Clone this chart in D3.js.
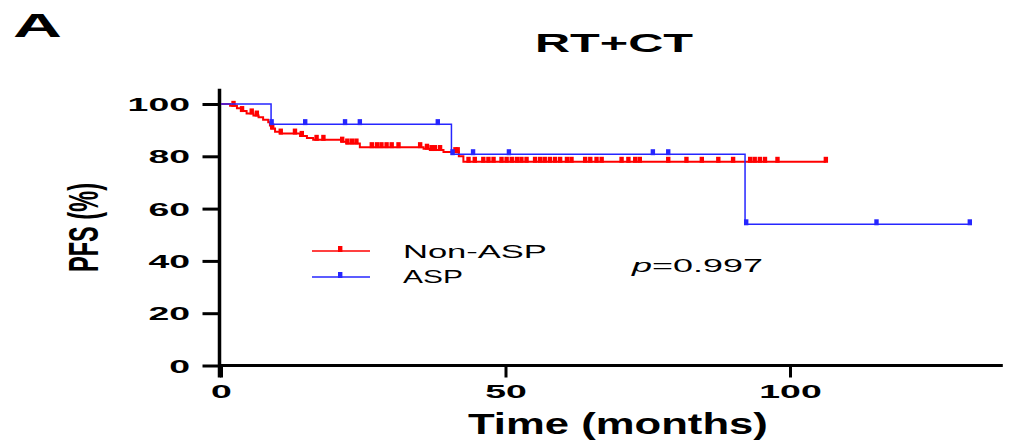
<!DOCTYPE html>
<html>
<head>
<meta charset="utf-8">
<script src="https://cdn.jsdelivr.net/npm/d3@7"></script>
<style>
  body { margin: 0; background: #fff; }
  svg { display: block; }
  text { font-family: "Liberation Sans", Arial, Helvetica, sans-serif; fill: #000; }
</style>
</head>
<body>
<script>
// Kaplan–Meier progression-free survival, RT+CT cohort, Non-ASP vs ASP

const yTickValues = [0, 20, 40, 60, 80, 100];
const xTickValues = [0, 50, 100];

// Non-ASP: time of each step (months) and PFS (%) from that time on
const nonAspTimes = [0, 1.6, 2.8, 3.6, 4.5, 5.7, 6.6, 7.4, 8.3, 8.6, 8.9, 9.5, 10.4,
  13.9, 15.1, 16.2, 21.2, 22.1, 24.4, 35.6, 36.7, 39.1, 41.8, 42.6];
const nonAspPfs = [100, 99.3, 98.4, 97.3, 96.4, 95.6, 94.9, 94.0, 93.0, 91.8, 90.6, 89.4, 88.7,
  87.8, 87.0, 86.3, 85.6, 84.9, 83.5, 82.9, 82.4, 81.6, 80.0, 77.9];
const nonAspEnd = 106.3;
const nonAspCensored = [2.2, 3.7, 5.4, 6.3, 9.0, 10.5, 13.0, 14.2, 16.8, 18.0, 21.3, 22.2, 23.0, 23.8,
  26.5, 27.4, 28.2, 29.1, 30.0, 31.2, 35.0, 36.2, 37.0, 37.6, 38.5, 41.2, 41.6,
  43.5, 44.6, 46.1, 47.0, 47.9, 49.3, 50.2, 51.1, 52.0, 52.8, 53.7, 55.2, 56.1, 56.9,
  57.8, 58.7, 59.6, 60.8, 61.6, 64.0, 64.9, 66.0, 66.9, 70.4, 71.6, 72.8, 73.6,
  78.6, 81.8, 84.5, 87.4, 90.0, 93.0, 93.8, 94.7, 95.6, 97.8, 106.3];

// ASP
const aspTimes = [0, 8.8, 40.5, 92.1];
const aspPfs = [100, 92.3, 80.8, 54.0];
const aspEnd = 131.6;
const aspCensored = [8.9, 14.8, 21.8, 24.4, 38.1, 40.7, 44.3, 50.6, 75.9, 78.6, 92.3, 115.2, 131.6];

const groups = [
  { name: "Non-ASP", color: "#ff0000", width: 2, times: nonAspTimes, pfs: nonAspPfs, end: nonAspEnd, censored: nonAspCensored },
  { name: "ASP", color: "#2626ff", width: 1.5, times: aspTimes, pfs: aspPfs, end: aspEnd, censored: aspCensored }
];

const W = 1015, H = 440;
const svg = d3.select("body").append("svg").attr("width", W).attr("height", H);

const x = d3.scaleLinear().domain([0, 100]).range([221, 790]);
const y = d3.scaleLinear().domain([0, 100]).range([365.5, 104]);

// stretch a text element horizontally so it spans the given width
function stretch(sel, left, baseline, width) {
  sel.attr("x", 0).attr("y", 0).attr("text-anchor", "start");
  const w = sel.node().getComputedTextLength();
  sel.attr("transform", `translate(${left},${baseline}) scale(${width / w},1)`);
  return sel;
}

// panel letter and title
stretch(svg.append("text").attr("font-size", 33.5).attr("font-weight", 700).text("A"), 13, 37, 49);
stretch(svg.append("text").attr("font-size", 25).attr("font-weight", 700).text("RT+CT"), 535, 52, 158);

// axes
const axisX0 = x(0) - 1.5;
const gy = svg.append("g").attr("transform", `translate(${axisX0},0)`)
  .call(d3.axisLeft(y).tickValues(yTickValues).tickSize(17).tickSizeOuter(0).tickFormat(d3.format("d")));
gy.select(".domain").remove();
gy.selectAll(".tick line").attr("stroke", "#000").attr("stroke-width", 3);
gy.selectAll(".tick text")
  .attr("x", -29.5).attr("dy", "0.36em")
  .attr("font-size", 18.5).attr("font-weight", 700).attr("font-family", null)
  .attr("textLength", d => String(d).length * 20.8).attr("lengthAdjust", "spacingAndGlyphs");

const gx = svg.append("g").attr("transform", `translate(0,${y(0)})`)
  .call(d3.axisBottom(x).tickValues(xTickValues).tickSize(12).tickSizeOuter(0).tickFormat(d3.format("d")));
gx.select(".domain").remove();
gx.selectAll(".tick line").attr("stroke", "#000").attr("stroke-width", 3);
gx.selectAll(".tick text")
  .attr("y", 32.5).attr("dy", 0)
  .attr("font-size", 19).attr("font-weight", 700).attr("font-family", null)
  .attr("textLength", d => String(d).length * 20.8).attr("lengthAdjust", "spacingAndGlyphs");

// axis lines (y axis runs a little above 100, x axis out to the right edge)
svg.append("line").attr("x1", axisX0).attr("x2", axisX0)
  .attr("y1", y(105.8)).attr("y2", y(0) + 12)
  .attr("stroke", "#000").attr("stroke-width", 3.5);
svg.append("line").attr("x1", axisX0).attr("x2", x(137.4))
  .attr("y1", y(0)).attr("y2", y(0))
  .attr("stroke", "#000").attr("stroke-width", 3);

// axis titles
stretch(svg.append("text").attr("font-size", 29).attr("font-weight", 700).text("Time (months)"), 468, 433.5, 300);
const yTitle = svg.append("text").attr("font-size", 23.6).attr("font-weight", 700)
  .attr("text-anchor", "middle").text("PFS (%)");
const yTitleLen = yTitle.node().getComputedTextLength();
yTitle.attr("transform", `translate(98,227.5) scale(1.78,1) rotate(-90) scale(${89 / yTitleLen},1)`);

// survival curves
function pfsAt(g, t) {
  const i = d3.bisectRight(g.times, t) - 1;
  return g.pfs[Math.max(0, i)];
}
const line = d3.line().curve(d3.curveStepAfter).x(d => x(d[0])).y(d => y(d[1]));

groups.forEach(g => {
  const pts = g.times.map((t, i) => [t, g.pfs[i]]);
  pts.push([g.end, g.pfs[g.pfs.length - 1]]);
  svg.append("path").datum(pts).attr("d", line)
    .attr("fill", "none").attr("stroke", g.color).attr("stroke-width", g.width);

  svg.append("g").selectAll("rect").data(g.censored).join("rect")
    .attr("x", t => x(t) - 2.2).attr("y", t => y(pfsAt(g, t)) - 5)
    .attr("width", 4.4).attr("height", 6)
    .attr("fill", g.color);
});

// legend
const legendY = [251, 277];
const legendLabelBase = [258, 283];
const legendLabelWidth = [144, 60];
groups.forEach((g, i) => {
  svg.append("line").attr("x1", 312).attr("x2", 370).attr("y1", legendY[i]).attr("y2", legendY[i])
    .attr("stroke", g.color).attr("stroke-width", 1.6);
  svg.append("rect").attr("x", 338).attr("y", legendY[i] - 5).attr("width", 4.4).attr("height", 6)
    .attr("fill", g.color);
  stretch(svg.append("text").attr("font-size", 18.5).text(g.name), 403, legendLabelBase[i], legendLabelWidth[i]);
});

// log-rank p value
const pText = svg.append("text").attr("font-size", 18.5).attr("fill", "#111");
pText.append("tspan").attr("font-style", "italic").text("p");
pText.append("tspan").text("=0.997");
stretch(pText, 632, 272, 131);
</script>
</body>
</html>
